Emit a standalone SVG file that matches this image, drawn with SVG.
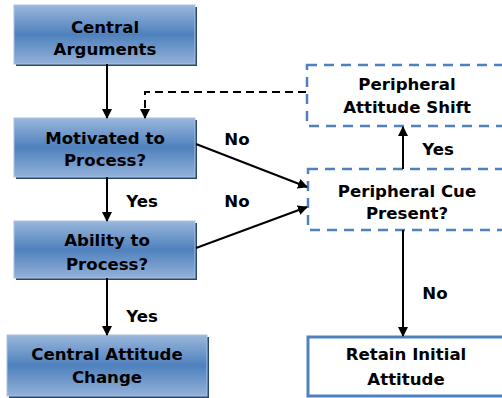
<svg xmlns="http://www.w3.org/2000/svg" width="502" height="398" viewBox="0 0 502 398">
<defs>
<linearGradient id="g" x1="0" y1="0" x2="0" y2="1">
<stop offset="0" stop-color="#9ab7dc"/>
<stop offset="0.5" stop-color="#4f81bd"/>
<stop offset="1" stop-color="#93b1d9"/>
</linearGradient>
<marker id="ah" viewBox="0 0 10 10" refX="9" refY="5" markerWidth="5" markerHeight="5" orient="auto" markerUnits="strokeWidth">
<path d="M0,0 L10,5 L0,10 z" fill="#000"/>
</marker>
</defs>
<style>
.blue{fill:url(#g);stroke:#a9c2e2;stroke-width:1}
.shadow{fill:#2a466c}
.dash{fill:#fff;stroke:#4f81bd;stroke-width:2.5;stroke-dasharray:10 7}
.solid{fill:#fff;stroke:#4f81bd;stroke-width:3}
text{font-family:"DejaVu Sans",Verdana,sans-serif;font-weight:bold;font-size:16.6px;fill:#000;text-anchor:middle}
.c{stroke:#000;stroke-width:2;fill:none;marker-end:url(#ah)}
</style>
<rect width="502" height="398" fill="#fff"/>
<g id="central-arguments">
<rect class="shadow" x="16" y="7" width="181" height="59"/>
<rect class="blue" x="14" y="5" width="181" height="59"/>
<text x="105" y="33">Central</text>
<text x="105" y="55">Arguments</text>
</g>
<g id="motivated">
<rect class="shadow" x="16" y="120" width="181" height="59"/>
<rect class="blue" x="14" y="118" width="181" height="59"/>
<text x="105" y="144">Motivated to</text>
<text x="105" y="166">Process?</text>
</g>
<g id="ability">
<rect class="shadow" x="16" y="223" width="181" height="57"/>
<rect class="blue" x="14" y="221" width="181" height="57"/>
<text x="107" y="246">Ability to</text>
<text x="107" y="270">Process?</text>
</g>
<g id="central-change">
<rect class="shadow" x="9" y="337" width="200" height="62"/>
<rect class="blue" x="7" y="335" width="200" height="61"/>
<text x="107" y="360">Central Attitude</text>
<text x="107" y="383">Change</text>
</g>
<g id="peripheral-shift">
<rect class="dash" x="307" y="65" width="205" height="61"/>
<text x="407" y="90">Peripheral</text>
<text x="407" y="113">Attitude Shift</text>
</g>
<g id="peripheral-cue">
<rect class="dash" x="308" y="169" width="205" height="61"/>
<text x="407" y="197">Peripheral Cue</text>
<text x="407" y="219">Present?</text>
</g>
<g id="retain">
<rect class="solid" x="308" y="337" width="205" height="59"/>
<text x="406" y="360">Retain Initial</text>
<text x="406" y="385">Attitude</text>
</g>
<g id="connectors">
<line class="c" x1="107" y1="64" x2="107" y2="118"/>
<line class="c" x1="107" y1="177" x2="107" y2="221"/>
<line class="c" x1="107" y1="278" x2="107" y2="335"/>
<line class="c" x1="196" y1="144" x2="307" y2="187"/>
<line class="c" x1="196" y1="248" x2="307" y2="207"/>
<line class="c" x1="403" y1="169" x2="403" y2="127"/>
<line class="c" x1="403" y1="230" x2="403" y2="336"/>
<path class="c" d="M306,92 H145 V118" stroke-width="2.2" stroke-dasharray="8 5"/>
<text x="237" y="145">No</text>
<text x="237" y="207">No</text>
<text x="142" y="207">Yes</text>
<text x="142" y="322">Yes</text>
<text x="438" y="155">Yes</text>
<text x="435" y="299">No</text>
</g>
</svg>
